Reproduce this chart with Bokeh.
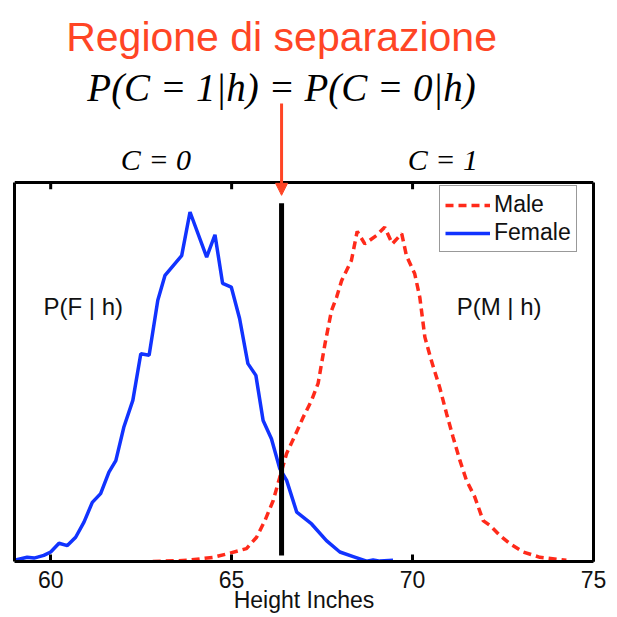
from bokeh.plotting import figure
from bokeh.models import (Range1d, LinearAxis, FixedTicker, Arrow,
                          NormalHead, Legend, LegendItem)
from bokeh.core.properties import value
from bokeh.embed import file_html
from bokeh.resources import INLINE

# ---- data ----
female_x = [59.03, 59.35, 59.54, 59.81, 60.00, 60.23, 60.46, 60.69, 60.92, 61.15,
            61.38, 61.61, 61.80, 62.02, 62.27, 62.49, 62.72, 62.96, 63.16, 63.62,
            63.85, 64.31, 64.54, 64.75, 64.99, 65.22, 65.45, 65.67, 65.87, 66.10,
            66.33, 66.52, 66.80, 67.21, 67.62, 67.99, 68.36, 68.73, 68.91, 69.10, 69.46]
female_y = [0.004, 0.011, 0.009, 0.016, 0.025, 0.048, 0.042, 0.064, 0.104, 0.156,
            0.179, 0.236, 0.266, 0.354, 0.425, 0.548, 0.544, 0.689, 0.755, 0.807,
            0.922, 0.803, 0.862, 0.734, 0.724, 0.641, 0.522, 0.491, 0.372, 0.324,
            0.245, 0.214, 0.130, 0.099, 0.055, 0.025, 0.013, 0.001, 0.004, 0.001, 0.003]

male_x = [62.82, 63.76, 64.49, 64.95, 65.41, 65.69, 65.92, 66.15, 66.33, 66.52,
          66.75, 66.98, 67.21, 67.39, 67.58, 67.76, 67.90, 68.04, 68.31, 68.47,
          68.68, 69.00, 69.23, 69.44, 69.70, 69.83, 70.06, 70.20, 70.34, 70.52,
          70.75, 70.94, 71.12, 71.31, 71.49, 71.72, 71.95, 72.14, 72.41, 72.69,
          73.06, 73.52, 74.25]
male_y = [0.000, 0.003, 0.011, 0.022, 0.034, 0.064, 0.108, 0.161, 0.222, 0.285,
          0.332, 0.381, 0.425, 0.470, 0.574, 0.662, 0.697, 0.741, 0.794, 0.871,
          0.838, 0.860, 0.882, 0.838, 0.865, 0.807, 0.759, 0.697, 0.592, 0.530,
          0.459, 0.390, 0.328, 0.266, 0.214, 0.170, 0.108, 0.095, 0.069, 0.047,
          0.025, 0.011, 0.003]

x_ticks = [60, 65, 70, 75]
x_min, x_max = 59, 75
y_box = 1.0              # top of the plotting box (data units)
y_view = 1.48            # room above the box for the annotations
sep_x = 66.38            # separation height
sep_y = [0.016, 0.945]   # extent of the separation bar

class_labels = ["C = 0", "C = 1"]
class_label_x = [62.91, 70.84]
class_label_y = [1.060, 1.060]
post_labels = ["P(F | h)", "P(M | h)"]
post_label_x = [59.80, 71.22]
post_label_y = [0.672, 0.672]

title_text = ["Regione di separazione"]
title_pos = ([sep_x], [1.383])
formula_text = ["P(C = 1|h) = P(C = 0|h)"]
formula_pos = ([sep_x], [1.250])
arrow_y = (1.208, 0.966)
x_label = "Height Inches"

ACCENT = "#ff4525"
BLUE = "#1133ff"
RED = "#ff2a1a"
INK = "#111111"

p = figure(width=617, height=617, output_backend="svg", toolbar_location=None,
           x_range=Range1d(x_min, x_max), y_range=Range1d(0, y_view),
           y_axis_location=None,
           min_border_left=14, min_border_right=24, min_border_top=0,
           min_border_bottom=56)
p.background_fill_color = "white"
p.border_fill_color = "white"
p.xgrid.visible = False
p.ygrid.visible = False
p.outline_line_color = None

ax = p.xaxis[0]
ax.ticker = FixedTicker(ticks=x_ticks)
ax.major_tick_in = 7
ax.major_tick_out = 0
ax.major_tick_line_width = 3
ax.minor_tick_line_color = None
ax.axis_line_width = 3
ax.major_label_text_font = "Liberation Sans"
ax.major_label_text_font_size = "23px"
ax.major_label_text_color = INK
ax.major_label_standoff = 9
ax.axis_label = x_label
ax.axis_label_text_font = "Liberation Sans"
ax.axis_label_text_font_size = "23px"
ax.axis_label_text_font_style = "normal"
ax.axis_label_text_color = INK
ax.axis_label_standoff = -4

# side borders of the box, bounded to the box height
for side in ("left", "right"):
    a = LinearAxis(ticker=FixedTicker(ticks=[]), bounds=(0, y_box), axis_line_width=3,
                   major_tick_line_color=None, minor_tick_line_color=None,
                   major_label_text_color=None, major_label_text_font_size="1px")
    p.add_layout(a, side)

# top border of the box and its inward ticks
p.line([x_min, x_max], [y_box, y_box], line_color="black", line_width=3)
p.segment(x0=x_ticks, y0=[y_box] * len(x_ticks), x1=x_ticks,
          y1=[y_box - 0.018] * len(x_ticks), line_color="black", line_width=3)

male_r = p.line(male_x, male_y, line_color=RED, line_width=3.5, line_dash="8 5")
female_r = p.line(female_x, female_y, line_color=BLUE, line_width=3.5)
p.line([sep_x, sep_x], sep_y, line_color="black", line_width=5)

p.text(post_label_x, post_label_y, text=post_labels, text_font=value("Liberation Sans"),
       text_font_size="24px", text_baseline="middle", text_align="left", text_color=INK)

legend = Legend(items=[LegendItem(label="Male", renderers=[male_r]),
                       LegendItem(label="Female", renderers=[female_r])],
                location=(425, 309), border_line_color="#333333", border_line_width=1.5,
                padding=5, spacing=1, glyph_width=45, glyph_height=20, label_standoff=4,
                label_text_font="Liberation Sans", label_text_font_size="23px",
                label_text_color=INK, label_height=24, margin=0,
                background_fill_color="white")
p.add_layout(legend)

# annotations above the box
p.text(class_label_x, class_label_y, text=class_labels, text_align="center",
       text_baseline="alphabetic", text_font=value("Liberation Serif"),
       text_font_style="italic", text_font_size="30px", text_color="black")
p.text(formula_pos[0], formula_pos[1], text=formula_text, text_align="center",
       text_baseline="alphabetic", text_font=value("Liberation Serif"),
       text_font_style="italic", text_font_size="39px", text_color="black")
p.text(title_pos[0], title_pos[1], text=title_text, text_align="center",
       text_baseline="alphabetic", text_font=value("Liberation Sans"),
       text_font_size="41px", text_color=ACCENT)

p.add_layout(Arrow(end=NormalHead(size=12, fill_color=ACCENT, line_color=ACCENT),
                   x_start=sep_x, y_start=arrow_y[0], x_end=sep_x, y_end=arrow_y[1],
                   line_color=ACCENT, line_width=3))

open("out.html", "w").write(file_html(p, INLINE))
